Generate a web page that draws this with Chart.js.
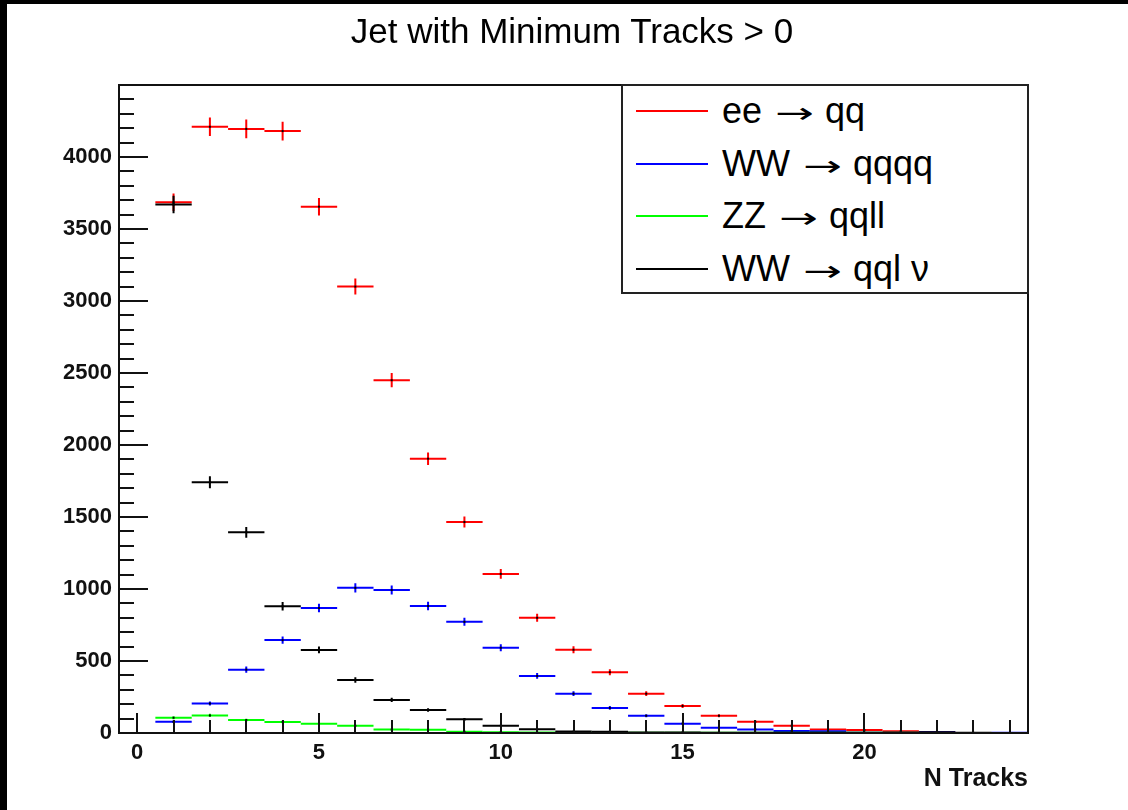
<!DOCTYPE html>
<html>
<head>
<meta charset="utf-8">
<script src="https://cdn.jsdelivr.net/npm/chart.js@4.4.1/dist/chart.umd.min.js"></script>
<style>
  html, body { margin: 0; padding: 0; background: #000; }
  body { width: 1128px; height: 810px; position: relative; overflow: hidden; }
  #paper { position: absolute; left: 7px; top: 4px; right: 0; bottom: 0; background: #fff; }
  #wrap { position: absolute; left: 0; top: 0; width: 1128px; height: 810px; }
  #title {
    position: absolute; left: 0; width: 1144px; top: 13px; text-align: center;
    font-family: "Liberation Sans", Arial, sans-serif; font-size: 35px; line-height: 35px; color: #000;
  }
  #legend {
    position: absolute; left: 621px; top: 84px; width: 404px; height: 206px;
    border: 2px solid #222; background: #fff;
    font-family: "Liberation Sans", Arial, sans-serif; font-size: 36px; color: #000;
  }
  .row { position: absolute; left: 13px; height: 50px; display: flex; align-items: center; white-space: pre; }
  .swatch { width: 72px; height: 2px; margin-right: 14px; }
  .arrow {
    display: inline-block; width: 40px; margin-left: 3px;
    font-family: "DejaVu Sans", sans-serif; font-size: 29px;
    transform: scaleX(1.6); transform-origin: left center;
  }
</style>
</head>
<body>
<div id="paper"></div>
<div id="wrap"><canvas id="chart" width="1128" height="810"></canvas></div>
<div id="title">Jet with Minimum Tracks &gt; 0</div>
<div id="legend"></div>
<script>
// bin centres (N tracks), each bin is 1 wide
const BINS = [1, 2, 3, 4, 5, 6, 7, 8, 9, 10, 11, 12, 13, 14, 15, 16, 17, 18, 19, 20, 21, 22, 23, 24];

// entries per bin
const EE_QQ    = [3685, 4210, 4195, 4180, 3655, 3100, 2450, 1905, 1465, 1105, 800, 578, 422, 273, 188, 120, 78, 50, 24, 21, 12, 3, 0, 0];
const WW_QQQQ  = [78, 205, 440, 645, 868, 1008, 993, 882, 772, 592, 396, 273, 174, 120, 65, 37, 25, 14, 12, 2, 2, 5, 0, 1];
const ZZ_QQLL  = [106, 122, 90, 77, 64, 50, 24, 23, 9, 6, 4, 3, 3, 2, 2, 2, 1, 1, 1, 1, 1, 0, 0, 0];
const WW_QQLNU = [3670, 1742, 1394, 880, 577, 368, 230, 160, 95, 51, 26, 10, 9, 4, 3, 2, 2, 1, 1, 1, 1, 5, 1, 0];

// legend text split around the arrow: [left, right]
const SERIES_LABELS = [["ee", "qq"], ["WW", "qqqq"], ["ZZ", "qqll"], ["WW", "qql \u03bd"]];
const SERIES_COLORS = ["#ff0000", "#0000ff", "#00ff00", "#000000"];
const SERIES_VALUES = [EE_QQ, WW_QQQQ, ZZ_QQLL, WW_QQLNU];

const X_TICKS = [0, 5, 10, 15, 20];
const Y_TICKS = [0, 500, 1000, 1500, 2000, 2500, 3000, 3500, 4000];

const FONT = "'Liberation Sans', Arial, sans-serif";

// ---------------------------------------------------------------------
// Histogram with error bars (ROOT "E" style): bin-wide line + sqrt(N) bar
// ---------------------------------------------------------------------
const histPlugin = {
  id: "hist",
  afterDatasetsDraw(chart) {
    const { ctx, chartArea: a, scales: { x, y } } = chart;
    ctx.save();
    ctx.beginPath();
    ctx.rect(a.left, a.top, a.right - a.left, a.bottom - a.top);
    ctx.clip();
    ctx.lineWidth = 2;
    chart.data.datasets.forEach((ds) => {
      ctx.strokeStyle = ds.borderColor;
      ds.data.forEach((p) => {
        if (!p.y) return;
        const yp = y.getPixelForValue(p.y);
        const xc = x.getPixelForValue(p.x);
        const err = Math.sqrt(p.y);
        ctx.beginPath();
        ctx.moveTo(x.getPixelForValue(p.x - 0.5), yp);
        ctx.lineTo(x.getPixelForValue(p.x + 0.5), yp);
        ctx.moveTo(xc, y.getPixelForValue(p.y - err));
        ctx.lineTo(xc, y.getPixelForValue(p.y + err));
        ctx.stroke();
        ctx.fillStyle = "#000";
        ctx.fillRect(xc - 1, yp - 1, 2, 2);
      });
    });
    ctx.restore();
  },
};

// frame + inward ticks like a ROOT pad
const framePlugin = {
  id: "frame",
  afterDraw(chart) {
    const { ctx, chartArea: a, scales: { x, y } } = chart;
    ctx.save();
    ctx.strokeStyle = "#111";
    ctx.lineWidth = 2;
    ctx.beginPath();
    // y ticks: major every 500, minor every 100
    for (let v = 0; v <= y.max; v += 100) {
      const yp = Math.round(y.getPixelForValue(v));
      const len = v % 500 === 0 ? 29 : 15;
      ctx.moveTo(a.left, yp);
      ctx.lineTo(a.left + len, yp);
    }
    // x ticks: major every 5, minor every 1
    for (let v = 0; v <= x.max; v += 1) {
      const xp = Math.round(x.getPixelForValue(v));
      const len = v % 5 === 0 ? 20 : 13;
      ctx.moveTo(xp, a.bottom);
      ctx.lineTo(xp, a.bottom - len);
    }
    ctx.stroke();
    ctx.strokeRect(a.left, a.top, a.right - a.left, a.bottom - a.top);
    ctx.restore();
  },
};

const datasets = SERIES_VALUES.map((vals, i) => ({
  label: SERIES_LABELS[i].join(" \u2192 "),
  data: BINS.map((b, j) => ({ x: b, y: vals[j] })),
  borderColor: SERIES_COLORS[i],
  backgroundColor: SERIES_COLORS[i],
  showLine: false,
  pointRadius: 0,
}));

new Chart(document.getElementById("chart"), {
  type: "scatter",
  data: { datasets },
  options: {
    responsive: false,
    animation: false,
    layout: { padding: { left: 0, top: 85, right: 100, bottom: 0 } },
    plugins: {
      legend: { display: false },
      tooltip: { enabled: false },
      title: { display: false },
    },
    scales: {
      x: {
        type: "linear",
        min: -0.5,
        max: 24.5,
        grid: { display: false, drawTicks: false },
        border: { display: false },
        afterBuildTicks: (s) => { s.ticks = X_TICKS.map((v) => ({ value: v })); },
        afterFit: (s) => { s.height = 77; },
        ticks: {
          autoSkip: false, maxRotation: 0, padding: 7, color: "#111",
          font: { family: FONT, size: 22, weight: "bold" },
          callback: (v) => String(v),
        },
        title: {
          display: true, text: "N Tracks", align: "end", color: "#111",
          font: { family: FONT, size: 25, weight: "bold" },
          padding: { top: 0, bottom: 16 },
        },
      },
      y: {
        type: "linear",
        min: 0,
        max: 4500,
        grid: { display: false, drawTicks: false },
        border: { display: false },
        afterBuildTicks: (s) => { s.ticks = Y_TICKS.map((v) => ({ value: v })); },
        afterFit: (s) => { s.width = 119; },
        ticks: {
          autoSkip: false, padding: 7, color: "#111",
          font: { family: FONT, size: 22, weight: "bold" },
          callback: (v) => String(v),
        },
      },
    },
  },
  plugins: [histPlugin, framePlugin],
});

// legend box, built from the same series arrays
const legend = document.getElementById("legend");
SERIES_LABELS.forEach(([lhs, rhs], i) => {
  const row = document.createElement("div");
  row.className = "row";
  row.style.top = (0 + i * 52.5) + "px";
  row.innerHTML = `<span class="swatch" style="background:${SERIES_COLORS[i]}"></span>` +
    `<span>${lhs} <span class="arrow">\u2192</span> ${rhs}</span>`;
  legend.appendChild(row);
});
</script>
</body>
</html>
